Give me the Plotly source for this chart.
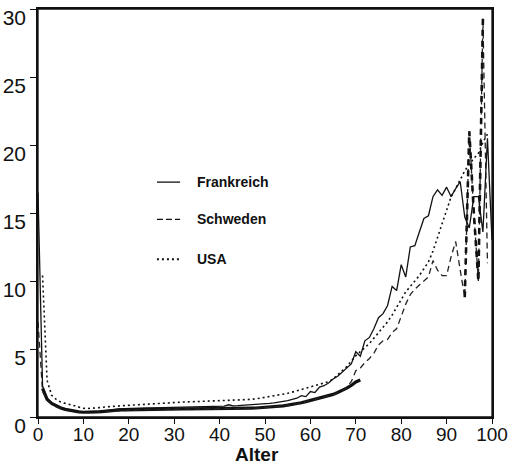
import plotly.graph_objects as go

# Sterberaten je 1000 nach Alter
ages_fr = list(range(0, 101))
frankreich = [
    16.5, 2.3, 1.4, 1.05, 0.85, 0.7, 0.6, 0.52, 0.45, 0.4,
    0.37, 0.36, 0.37, 0.39, 0.43, 0.48, 0.52, 0.56, 0.6, 0.62,
    0.64, 0.65, 0.66, 0.66, 0.67, 0.67, 0.68, 0.68, 0.69, 0.69,
    0.7, 0.7, 0.71, 0.72, 0.72, 0.73, 0.74, 0.75, 0.76, 0.78,
    0.79, 0.8, 0.9, 0.82, 0.83, 0.85, 0.86, 0.88, 0.9, 0.93,
    0.96, 1.0, 1.04, 1.08, 1.13, 1.2, 1.3, 1.38, 1.57, 1.5,
    1.87, 1.8, 2.2, 2.3, 2.5, 2.8, 3.0, 3.3, 3.6, 3.9,
    4.8, 4.47, 5.6, 5.85, 6.5, 7.3, 7.6, 8.2, 9.6, 9.3,
    11.2, 10.3, 12.5, 12.6, 13.6, 14.6, 14.8, 16.2, 16.7, 16.3,
    16.9, 16.2, 16.8, 17.3, 14.7, 13.9, 16.2, 16.2, 13.6, 20.5,
    13.0,
]

ages_se = list(range(0, 100))
schweden = [
    7.0, 1.9, 1.2, 0.95, 0.75, 0.62, 0.52, 0.45, 0.4, 0.36,
    0.33, 0.32, 0.33, 0.35, 0.38, 0.42, 0.45, 0.48, 0.5, 0.51,
    0.52, 0.53, 0.54, 0.55, 0.55, 0.56, 0.56, 0.57, 0.57, 0.57,
    0.58, 0.58, 0.58, 0.58, 0.58, 0.58, 0.59, 0.59, 0.59, 0.6,
    0.6, 0.6, 0.6, 0.61, 0.61, 0.61, 0.62, 0.63, 0.64, 0.66,
    0.68, 0.7, 0.73, 0.76, 0.8, 0.85, 0.9, 0.96, 1.03, 1.11,
    1.2, 1.28, 1.36, 1.44, 1.54, 1.64, 1.75, 1.95, 2.2, 2.6,
    3.4, 3.6, 4.0, 4.3, 4.7, 5.3, 5.6, 5.7, 6.2, 6.5,
    7.4, 8.3, 9.0, 9.4, 9.7, 10.0, 10.3, 11.5, 10.8, 10.4,
    10.4, 11.8, 12.9, 10.8, 8.8, 21.0, 15.0, 10.0, 29.3, 11.3,
]

ages_us = list(range(1, 100))
usa = [
    10.4, 2.7, 1.6, 1.3, 1.1, 1.0, 0.9, 0.8, 0.7,
    0.64, 0.63, 0.64, 0.66, 0.7, 0.74, 0.78, 0.8, 0.82, 0.84,
    0.86, 0.9, 0.94, 0.96, 0.96, 0.97, 0.98, 1.0, 1.02, 1.05,
    1.08, 1.09, 1.1, 1.11, 1.12, 1.13, 1.14, 1.15, 1.16, 1.18,
    1.2, 1.21, 1.22, 1.24, 1.25, 1.27, 1.28, 1.3, 1.33, 1.38,
    1.45, 1.5, 1.55, 1.6, 1.67, 1.74, 1.83, 1.92, 2.0, 2.1,
    2.2, 2.3, 2.4, 2.5, 2.6, 2.8, 3.1, 3.4, 3.7, 4.1,
    4.5, 4.8, 5.1, 5.4, 5.8, 6.2, 6.6, 7.0, 7.5, 8.1,
    8.7, 9.2, 9.6, 10.0, 10.4, 10.9, 11.4, 12.2, 13.2, 14.3,
    15.3, 16.2, 16.8, 17.5, 18.1, 18.6, 19.0, 19.4, 20.2, 20.8,
]

# kräftige Linie im unteren Bereich (Alter 1 bis 71)
ages_low = list(range(1, 72))
low_band = [
    2.1, 1.3, 1.0, 0.8, 0.66, 0.56, 0.48, 0.42, 0.38,
    0.35, 0.34, 0.35, 0.37, 0.4, 0.44, 0.47, 0.5, 0.52, 0.53,
    0.54, 0.55, 0.56, 0.57, 0.57, 0.58, 0.58, 0.59, 0.59, 0.59,
    0.6, 0.6, 0.6, 0.6, 0.6, 0.6, 0.61, 0.61, 0.61, 0.62,
    0.62, 0.62, 0.62, 0.63, 0.63, 0.63, 0.64, 0.65, 0.66, 0.68,
    0.7, 0.72, 0.75, 0.78, 0.82, 0.87, 0.92, 0.98, 1.05, 1.13,
    1.22, 1.3, 1.38, 1.46, 1.56, 1.66, 1.8, 1.95, 2.12, 2.32,
    2.58, 2.72,
]

x_ticks = [0, 10, 20, 30, 40, 50, 60, 70, 80, 90, 100]
y_ticks = [0, 5, 10, 15, 20, 25, 30]

legend_items = ["Frankreich", "Schweden", "USA"]

FONT = "Liberation Sans, Arial, sans-serif"
INK = "#111111"

fig = go.Figure()

fig.add_trace(go.Scatter(x=ages_low, y=low_band, mode="lines",
                         line=dict(color=INK, width=3.2), showlegend=False))
fig.add_trace(go.Scatter(x=ages_us, y=usa, mode="lines", name="USA",
                         line=dict(color=INK, width=1.6, dash="2px,3px"),
                         showlegend=False))
fig.add_trace(go.Scatter(x=ages_se, y=schweden, mode="lines", name="Schweden",
                         line=dict(color="#222222", width=1.3, dash="6px,4px"),
                         showlegend=False))
fig.add_trace(go.Scatter(x=ages_se[94:99], y=schweden[94:99], mode="lines",
                         line=dict(color=INK, width=2.6, dash="6px,5px"),
                         showlegend=False))
fig.add_trace(go.Scatter(x=ages_fr, y=frankreich, mode="lines", name="Frankreich",
                         line=dict(color=INK, width=1.3), showlegend=False))

# Legende als Linienmuster mit Beschriftung
legend_y = [0.5757, 0.4846, 0.3868]
legend_dash = ["solid", "6px,3px", "2px,3px"]
legend_w = [1.3, 1.3, 2.0]
for label, yy, dsh, w in zip(legend_items, legend_y, legend_dash, legend_w):
    fig.add_shape(type="line", xref="paper", yref="paper",
                  x0=0.262, x1=0.313, y0=yy, y1=yy,
                  line=dict(color=INK, width=w, dash=dsh))
    fig.add_annotation(xref="paper", yref="paper", x=0.346, y=yy,
                       xanchor="left", yanchor="middle", showarrow=False,
                       text=f"<b>{label}</b>",
                       font=dict(family=FONT, size=14, color=INK))

# Rahmen um die Zeichenfläche
fig.add_shape(type="rect", xref="paper", yref="paper", x0=0, x1=1, y0=0, y1=1,
              line=dict(color=INK, width=1.3), layer="above")

fig.add_annotation(xref="paper", yref="paper", x=0.482, y=-0.092,
                   xanchor="center", yanchor="middle", showarrow=False,
                   text="<b>Alter</b>", font=dict(family=FONT, size=19, color=INK))

fig.update_xaxes(range=[0, 100], tickvals=x_ticks, ticks="outside", ticklen=5,
                 tickwidth=1.2, tickcolor=INK, showline=True, linecolor=INK,
                 linewidth=1.5, mirror=True, showgrid=False, zeroline=False,
                 automargin=False, ticklabelstandoff=-6,
                 tickfont=dict(family=FONT, size=19, color=INK))
fig.update_yaxes(range=[0, 30], tickvals=y_ticks, ticks="outside", ticklen=6,
                 tickwidth=1.2, tickcolor=INK, showline=True, linecolor=INK,
                 linewidth=1.5, mirror=True, showgrid=False, zeroline=False,
                 automargin=False, ticklabelshift=9, ticklabelstandoff=0,
                 ticklabeloverflow="allow",
                 tickfont=dict(family=FONT, size=21, color=INK))

fig.update_layout(width=510, height=464,
                  margin=dict(l=38, r=18, t=9, b=47),
                  paper_bgcolor="white", plot_bgcolor="white",
                  showlegend=False)

fig.write_html("out.html")
